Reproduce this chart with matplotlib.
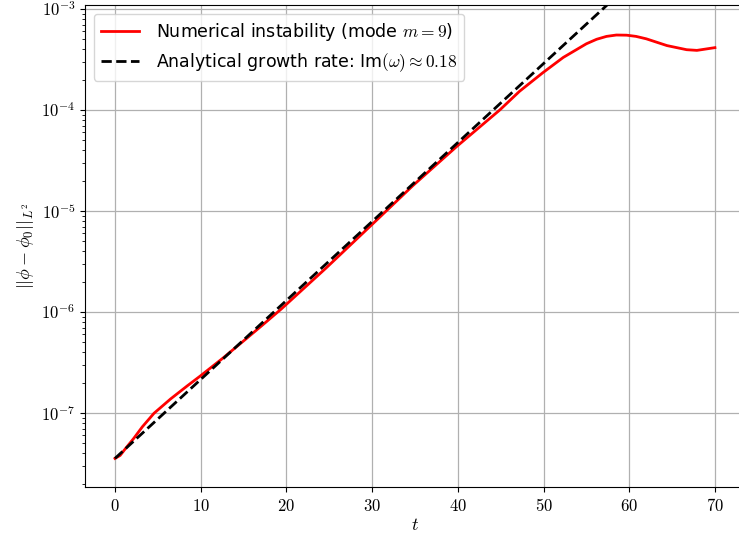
import numpy as np
import matplotlib
matplotlib.use('Agg')
import matplotlib.pyplot as plt
from matplotlib.ticker import LogLocator, FuncFormatter, NullFormatter

plt.rcParams['mathtext.fontset'] = 'cm'
plt.rcParams['font.family'] = 'DejaVu Sans'

# Numerical L2 error of the unstable mode
t_num = [0, 0.6, 1.25, 2.2, 3.2, 4.55, 6.5, 8.45, 10, 12.55, 15.1, 17.2,
         19.4, 24.6, 29.95, 34.75, 39.9, 44.9, 47.2, 49.9, 52.3, 55.0,
         56.2, 57.35, 58.5, 59.7, 60.8, 62.0, 64.4, 66.7, 67.9, 70]
err_num = [3.55e-8, 3.80e-8, 4.47e-8, 5.62e-8, 7.31e-8, 9.93e-8, 1.38e-7,
           1.86e-7, 2.34e-7, 3.47e-7, 5.25e-7, 7.41e-7, 1.07e-6, 2.71e-6,
           7.29e-6, 1.78e-5, 4.37e-5, 1.00e-4, 1.53e-4, 2.33e-4, 3.31e-4,
           4.52e-4, 5.01e-4, 5.35e-4, 5.52e-4, 5.50e-4, 5.35e-4, 5.06e-4,
           4.34e-4, 3.95e-4, 3.89e-4, 4.14e-4]

# Analytical exponential growth (straight line on the log axis)
t_ana = [0, 70]
err_ana = [3.55e-8, 1.053e-2]

x_ticks = [0, 10, 20, 30, 40, 50, 60, 70]

fig = plt.figure(figsize=(7.39, 5.35), dpi=100)
ax = fig.add_axes([0.115, 0.0897, 0.893, 0.901])

ax.plot(t_num, err_num, color='red', linewidth=2.0,
        label=r'Numerical instability (mode $m=9$)')
ax.plot(t_ana, err_ana, color='black', linestyle='--', linewidth=2.0,
        label=r'Analytical growth rate: Im$(\omega)\approx 0.18$')

ax.set_yscale('log')
ax.set_xlim(-3.5, 73.5)
ax.set_ylim(1.85e-8, 1.095e-3)
ax.set_xticks(x_ticks)
ax.xaxis.set_major_formatter(FuncFormatter(lambda v, p: r'$%d$' % round(v)))
ax.yaxis.set_major_locator(LogLocator(base=10))
ax.yaxis.set_minor_locator(LogLocator(base=10, subs=np.arange(2, 10)))
ax.yaxis.set_major_formatter(FuncFormatter(lambda v, p: r'$10^{%d}$' % round(np.log10(v))))
ax.yaxis.set_minor_formatter(NullFormatter())
ax.tick_params(labelsize=12)
ax.spines['right'].set_visible(False)

ax.grid(True, which='major', color='#b0b0b0', linewidth=0.9)
ax.set_xlabel(r'$t$', fontsize=13, labelpad=1)
ax.set_ylabel(r'$||\phi - \phi_0||_{L^2}$', fontsize=13)

ax.legend(loc='upper left', fontsize=12.5, framealpha=0.8,
          handlelength=2.2, handletextpad=1.0)

fig.savefig('out.png', dpi=100)
